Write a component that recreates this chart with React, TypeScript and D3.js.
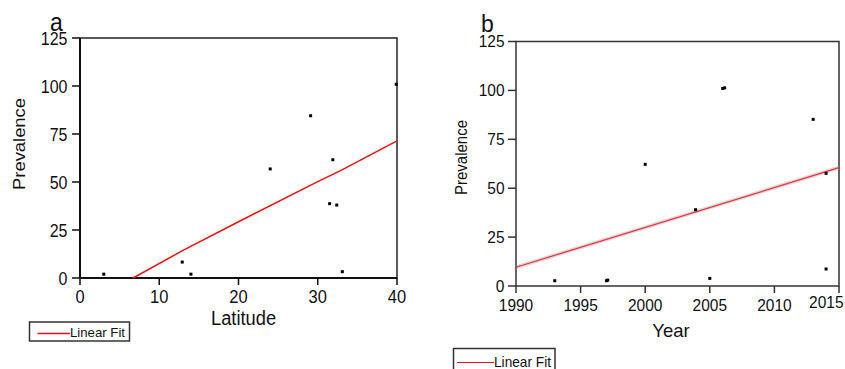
import React from "react";
import * as d3 from "d3";

// Panel a data
const latitudeA = [3, 12.9, 14, 24, 29.1, 31.9, 31.5, 32.4, 33.1, 39.9];
const prevalenceA = [2, 8.3, 2, 56.8, 84.5, 61.6, 38.7, 38, 3.3, 100.9];
const fitLatA = [6.7, 13, 20, 30, 33, 40];
const fitPrevA = [0, 14.4, 29.3, 50.2, 56.2, 71.4];
const xTicksA = [0, 10, 20, 30, 40];
const yTicks = [0, 25, 50, 75, 100, 125];

// Panel b data
const yearB = [1993, 1997, 1997.1, 2000, 2003.9, 2005, 2006, 2006.15, 2013, 2014, 2014];
const prevalenceB = [2.7, 2.7, 3, 62.2, 39, 3.9, 101, 101.3, 85.2, 8.7, 57.6];
const fitYearB = [1990, 2015];
const fitPrevB = [9.6, 60.5];
const xTicksB = [1990, 1995, 2000, 2005, 2010, 2015];

const FONT = "'Liberation Sans', Arial, Helvetica, sans-serif";
const STRETCH_A = 1.15;

function SText(props: { x: number; y: number; size: number; anchor?: string; sy?: number; children: React.ReactNode }) {
  const { x, y, size, anchor = "start", sy = 1, children } = props;
  return (
    <text
      transform={`translate(${x},${y}) scale(1,${sy})`}
      fontSize={size}
      textAnchor={anchor as any}
      fill="#111"
    >
      {children}
    </text>
  );
}

export default function App() {
  const xa = d3.scaleLinear().domain([0, 40]).range([80, 397]);
  const ya = d3.scaleLinear().domain([0, 125]).range([278, 38]);
  const xb = d3.scaleLinear().domain([1990, 2015]).range([516, 839]);
  const yb = d3.scaleLinear().domain([0, 125]).range([286, 41.5]);

  const lineA = d3
    .line<number>()
    .x((_, i) => xa(fitLatA[i]))
    .y((d) => ya(d));
  const lineB = d3
    .line<number>()
    .x((_, i) => xb(fitYearB[i]))
    .y((d) => yb(d));

  return (
    <svg
      width={845}
      height={369}
      style={{ position: "absolute", left: 0, top: 0, background: "#fff" }}
      fontFamily={FONT}
    >
      <rect x={0} y={0} width={845} height={369} fill="#fff" />
      {/* ---------- Panel a ---------- */}
      <SText x={50} y={30.5} size={23} sy={1.1}>a</SText>
      <rect x={80} y={38} width={317} height={240} fill="none" stroke="#222" strokeWidth={1.5} />
      <line x1={80} x2={80} y1={38} y2={278} stroke="#111" strokeWidth={2} />
      <line x1={80} x2={397} y1={278} y2={278} stroke="#111" strokeWidth={2} />
      {yTicks.map((t) => (
        <g key={"ya" + t}>
          <line x1={72} x2={80} y1={ya(t)} y2={ya(t)} stroke="#111" strokeWidth={1.5} />
          <SText x={67.5} y={ya(t) + 7} size={16} anchor="end" sy={STRETCH_A}>{t}</SText>
        </g>
      ))}
      {xTicksA.map((t) => (
        <g key={"xa" + t}>
          <line x1={xa(t)} x2={xa(t)} y1={278} y2={285} stroke="#111" strokeWidth={1.5} />
          <SText x={xa(t)} y={302.5} size={16.5} anchor="middle" sy={STRETCH_A}>{t}</SText>
        </g>
      ))}
      <text
        transform="translate(24.5,144) rotate(-90)"
        fontSize={17}
        textAnchor="middle"
        textLength={92}
        lengthAdjust="spacingAndGlyphs"
        fill="#111"
      >
        Prevalence
      </text>
      <SText x={243.5} y={325} size={18.3} anchor="middle" sy={STRETCH_A}>Latitude</SText>
      <path d={lineA(fitPrevA) || ""} fill="none" stroke="#f01010" strokeWidth={1.5} />
      {latitudeA.map((v, i) => (
        <rect key={"pa" + i} x={xa(v) - 1.5} y={ya(prevalenceA[i]) - 1.5} width={3} height={3} fill="#000" />
      ))}
      {/* legend a */}
      <rect x={29.5} y={322} width={100} height={19} fill="#fff" stroke="#333" strokeWidth={1.5} />
      <line x1={37.5} x2={70} y1={333.5} y2={333.5} stroke="#f01010" strokeWidth={1.5} />
      <text x={70} y={337} fontSize={13.5} textLength={55} lengthAdjust="spacingAndGlyphs" fill="#111">Linear Fit</text>

      {/* ---------- Panel b ---------- */}
      <SText x={481} y={31.5} size={23}>b</SText>
      <rect x={516} y={41.5} width={323} height={244.5} fill="none" stroke="#333" strokeWidth={1.5} />
      {yTicks.map((t) => (
        <g key={"yb" + t}>
          <line x1={508} x2={516} y1={yb(t)} y2={yb(t)} stroke="#333" strokeWidth={1.5} />
          <SText x={504.5} y={yb(t) + 5.8} size={15.5} anchor="end" sy={1.05}>{t}</SText>
        </g>
      ))}
      {xTicksB.map((t, i) => (
        <g key={"xb" + t}>
          <line x1={xb(t)} x2={xb(t)} y1={286} y2={293} stroke="#333" strokeWidth={1.5} />
          {i === xTicksB.length - 1 ? (
            <SText x={843.5} y={308} size={15.5} anchor="end" sy={1.05}>{t}</SText>
          ) : (
            <SText x={xb(t)} y={310.5} size={15.5} anchor="middle" sy={1.05}>{t}</SText>
          )}
        </g>
      ))}
      <text
        transform="translate(466.5,157.5) rotate(-90)"
        fontSize={16}
        textAnchor="middle"
        textLength={75}
        lengthAdjust="spacingAndGlyphs"
        fill="#111"
      >
        Prevalence
      </text>
      <SText x={671} y={337} size={18.5} anchor="middle">Year</SText>
      <path d={lineB(fitPrevB) || ""} fill="none" stroke="rgba(170,140,150,0.35)" strokeWidth={4} />
      <path d={lineB(fitPrevB) || ""} fill="none" stroke="#e8323c" strokeWidth={1.2} />
      {yearB.map((v, i) => (
        <rect key={"pb" + i} x={xb(v) - 1.5} y={yb(prevalenceB[i]) - 1.5} width={3} height={3} fill="#000" />
      ))}
      {/* legend b */}
      <rect x={453.5} y={348.5} width={101.5} height={24} fill="#fff" stroke="#333" strokeWidth={1.5} />
      <line x1={457} x2={494} y1={362.5} y2={362.5} stroke="#f01010" strokeWidth={1.2} />
      <text x={494} y={366.5} fontSize={15} textLength={57} lengthAdjust="spacingAndGlyphs" fill="#111">Linear Fit</text>
    </svg>
  );
}
